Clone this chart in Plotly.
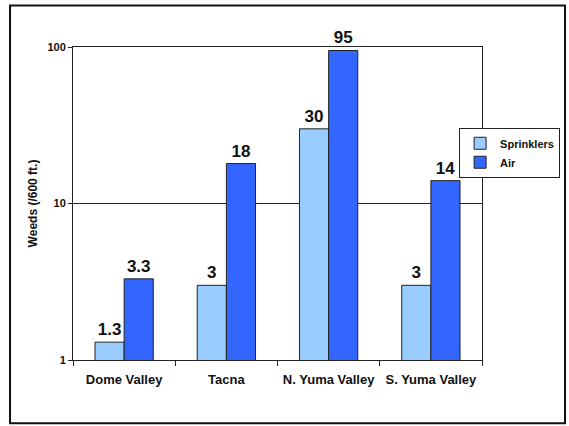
import plotly.graph_objects as go

categories = ["Dome Valley", "Tacna", "N. Yuma Valley", "S. Yuma Valley"]
sprinklers = [1.3, 3, 30, 3]
air = [3.3, 18, 95, 14]
sprinkler_labels = ["1.3", "3", "30", "3"]
air_labels = ["3.3", "18", "95", "14"]
y_ticks = [1, 10, 100]

FONT = "Arial, 'Liberation Sans', sans-serif"

fig = go.Figure()
fig.add_trace(go.Bar(
    name="Sprinklers", x=categories, y=sprinklers,
    text=sprinkler_labels, textposition="outside",
    textfont=dict(size=17, family=FONT, color="#111", weight="bold"),
    marker=dict(color="#99CCFF", line=dict(color="#222", width=1)),
    cliponaxis=False,
))
fig.add_trace(go.Bar(
    name="Air", x=categories, y=air,
    text=air_labels, textposition="outside",
    textfont=dict(size=17, family=FONT, color="#111", weight="bold"),
    marker=dict(color="#3366FF", line=dict(color="#222", width=1)),
    cliponaxis=False,
))

fig.update_layout(
    width=569, height=426,
    margin=dict(l=73, r=87, t=47, b=66, autoexpand=False),
    paper_bgcolor="white", plot_bgcolor="white",
    barmode="group", bargap=0.43, bargroupgap=0,
    font=dict(family=FONT, color="#111", size=12, weight="bold"),
    showlegend=True,
    legend=dict(
        x=0.944, y=0.742, xanchor="left", yanchor="top",
        bordercolor="#222", borderwidth=1, bgcolor="white",
        font=dict(size=11, family=FONT, weight="bold"),
        itemwidth=30, tracegroupgap=0,
    ),
    shapes=[dict(
        type="rect", xref="paper", yref="paper",
        x0=-0.154, x1=1.203, y0=-0.202, y1=1.1326,
        line=dict(color="#111", width=2), fillcolor="rgba(0,0,0,0)",
        layer="below",
    )],
)

fig.update_xaxes(
    automargin=False,
    showline=True, linecolor="#222", linewidth=1, mirror=True,
    ticks="outside", tickson="boundaries", ticklen=5, tickcolor="#222",
    ticklabelstandoff=7,
    tickfont=dict(size=13, family=FONT, weight="bold"),
    showgrid=False,
)
fig.update_yaxes(
    automargin=False,
    type="log", range=[0, 2],
    tickvals=y_ticks, ticktext=[str(v) for v in y_ticks],
    showline=True, linecolor="#222", linewidth=1, mirror=True,
    ticks="outside", ticklen=4, tickcolor="#222",
    tickfont=dict(size=11, family=FONT, weight="bold"),
    showgrid=True, gridcolor="#222", gridwidth=1,
    title=dict(text="Weeds (/600 ft.)", font=dict(size=12, family=FONT, weight="bold"), standoff=7),
)

fig.write_html("out.html", config={"displayModeBar": False},
               post_script="document.body.style.margin='0';")
